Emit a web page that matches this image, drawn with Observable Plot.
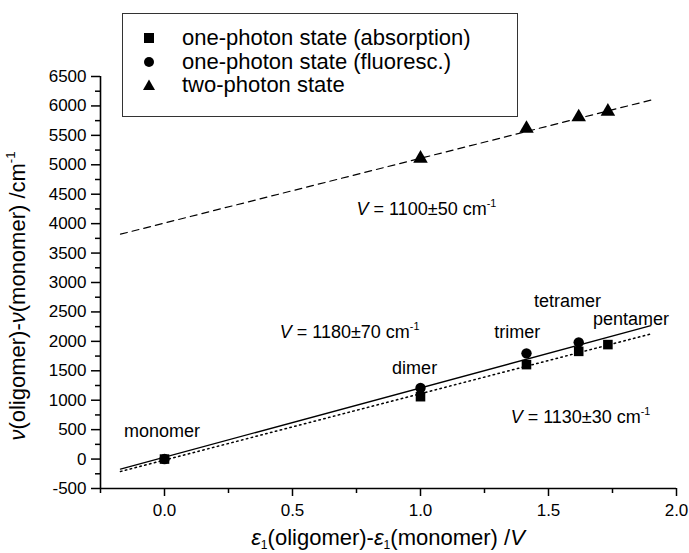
<!DOCTYPE html>
<html><head><meta charset="utf-8">
<script src="https://cdn.jsdelivr.net/npm/d3@7"></script>
<script src="https://cdn.jsdelivr.net/npm/@observablehq/plot@0.6"></script>
<style>
html,body{margin:0;padding:0;background:#fff;}
#wrap{position:relative;width:689px;height:553px;font-family:"Liberation Sans",Arial,Helvetica,sans-serif;color:#000;}
#legend{position:absolute;left:122px;top:13px;width:396px;height:104px;border:1px solid #333;box-sizing:border-box;background:#fff;}
.row{position:absolute;left:0;height:22px;line-height:22px;font-size:22px;white-space:nowrap;}
.row svg{position:absolute;left:19px;top:4px;}
.row span{position:absolute;left:59px;top:0;}
</style></head><body><div id="wrap"></div>
<script>
// ---- data ----
const structures = ["monomer", "dimer", "trimer", "tetramer", "pentamer"];
const deltaEps = [0, 1.0, 1.414, 1.618, 1.732];
const absorption = [0, 1060, 1605, 1830, 1945];
const fluorescence = [0, 1207, 1796, 1983, null];
const twoPhoton = [null, 5107, 5614, 5810, 5906];

// fitted lines (end points)
const fitAbsX = [-0.172, 1.90], fitAbsY = [-211, 2126];     // dotted, V = 1130
const fitFluX = [-0.172, 1.90], fitFluY = [-170, 2267];     // solid, V = 1180
const fitTwoX = [-0.172, 1.905], fitTwoY = [3821, 6105];    // dashed, V = 1100

// annotations (data coords)
const annText = ["monomer", "dimer", "trimer", "tetramer", "pentamer",
  "V = 1100±50 cm-1", "V = 1180±70 cm-1", "V = 1130±30 cm-1"];
const annX = [-0.01, 0.977, 1.378, 1.574, 1.822, 1.023, 0.723, 1.625];
const annY = [480, 1536, 2148, 2680, 2369, 4240, 2151, 703];

// axes
const xDomain = [-0.25, 2.0];
const yDomain = [-500, 6500];
const xMajor = [0.0, 0.5, 1.0, 1.5, 2.0];
const xMinor = [-0.25, 0.25, 0.75, 1.25, 1.75];
const yMajor = [-500, 0, 500, 1000, 1500, 2000, 2500, 3000, 3500, 4000, 4500, 5000, 5500, 6000, 6500];
const yMinor = [-250, 250, 750, 1250, 1750, 2250, 2750, 3250, 3750, 4250, 4750, 5250, 5750, 6250];

const legendLabels = ["one-photon state (absorption)", "one-photon state (fluoresc.)", "two-photon state"];

// ---- build tables ----
const idx = d3.range(structures.length);
const absPts = idx.filter(i => absorption[i] != null).map(i => ({x: deltaEps[i], y: absorption[i]}));
const fluPts = idx.filter(i => fluorescence[i] != null).map(i => ({x: deltaEps[i], y: fluorescence[i]}));
const twoPts = idx.filter(i => twoPhoton[i] != null).map(i => ({x: deltaEps[i], y: twoPhoton[i]}));
const toLine = (xs, ys) => xs.map((x, i) => ({x, y: ys[i]}));
const ann = annText.map((t, i) => ({x: annX[i], y: annY[i], t}));

const plot = Plot.plot({
  width: 689, height: 553,
  marginLeft: 100, marginRight: 13, marginTop: 76, marginBottom: 65,
  style: {fontFamily: '"Liberation Sans", Arial, Helvetica, sans-serif', fontSize: "17px", color: "#000", background: "#fff", overflow: "visible"},
  x: {domain: xDomain, label: null},
  y: {domain: yDomain, label: null},
  marks: [
    Plot.ruleY([yDomain[0]], {stroke: "#000", strokeWidth: 1.6}),
    Plot.ruleX([xDomain[0]], {stroke: "#000", strokeWidth: 1.6}),
    Plot.axisX(xMajor, {tickSize: 8, tickPadding: 7, tickFormat: d3.format(".1f"), strokeWidth: 1.5, fontSize: 17, label: null}),
    Plot.axisX(xMinor, {tickSize: 5, tickFormat: () => "", strokeWidth: 1.5, label: null}),
    Plot.axisY(yMajor, {tickSize: 9, tickPadding: 5, tickFormat: d => String(d), strokeWidth: 1.5, fontSize: 17, label: null}),
    Plot.axisY(yMinor, {tickSize: 5, tickFormat: () => "", strokeWidth: 1.5, label: null}),
    Plot.line(toLine(fitTwoX, fitTwoY), {x: "x", y: "y", stroke: "#000", strokeWidth: 1.2, strokeDasharray: "7,5"}),
    Plot.line(toLine(fitFluX, fitFluY), {x: "x", y: "y", stroke: "#000", strokeWidth: 1.3}),
    Plot.line(toLine(fitAbsX, fitAbsY), {x: "x", y: "y", stroke: "#000", strokeWidth: 1.5, strokeDasharray: "1.5,3.5"}),
    Plot.dot(fluPts, {x: "x", y: "y", r: 5.2, fill: "#000", stroke: "none", symbol: "circle"}),
    Plot.dot(absPts, {x: "x", y: "y", r: 5.4, fill: "#000", stroke: "none", symbol: "square"}),
    Plot.dot(twoPts, {x: "x", y: "y", r: 5.4, fill: "#000", stroke: "none", symbol: "triangle"}),
    Plot.text(ann, {x: "x", y: "y", text: "t", fontSize: 18, fill: "#000", textAnchor: "middle"})
  ]
});

const svg = d3.select(plot);
// rich text for V annotations
svg.selectAll("text").each(function () {
  const t = this.textContent;
  const m = /^V = (.*) cm-1$/.exec(t);
  if (m) {
    const s = d3.select(this);
    s.text(null);
    s.append("tspan").attr("font-style", "italic").text("V");
    s.append("tspan").text(" = " + m[1] + " cm");
    s.append("tspan").attr("font-size", "0.6em").attr("dy", "-0.75em").text("-1");
  }
});

// axis titles
const xt = svg.append("text").attr("x", 388).attr("y", 545).attr("text-anchor", "middle")
  .attr("font-size", 22).attr("fill", "#000");
xt.append("tspan").attr("font-style", "italic").text("ε");
xt.append("tspan").attr("font-size", "0.55em").attr("dy", "0.35em").text("1");
xt.append("tspan").attr("dy", "-0.19em").text("(oligomer)-");
xt.append("tspan").attr("font-style", "italic").text("ε");
xt.append("tspan").attr("font-size", "0.55em").attr("dy", "0.35em").text("1");
xt.append("tspan").attr("dy", "-0.19em").text("(monomer) /");
xt.append("tspan").attr("font-style", "italic").text("V");

const yt = svg.append("text").attr("transform", "translate(25,296) rotate(-90)").attr("text-anchor", "middle")
  .attr("font-size", 22).attr("fill", "#000");
yt.append("tspan").attr("font-style", "italic").text("ν");
yt.append("tspan").text("(oligomer)-");
yt.append("tspan").attr("font-style", "italic").text("ν");
yt.append("tspan").text("(monomer) /cm");
yt.append("tspan").attr("font-size", "0.6em").attr("dy", "-0.75em").text("-1");

const wrap = document.getElementById("wrap");
wrap.appendChild(plot);

// legend overlay
const legend = document.createElement("div");
legend.id = "legend";
const symbols = [
  '<rect x="2" y="2" width="10" height="10" fill="#000"/>',
  '<circle cx="7" cy="7" r="5" fill="#000"/>',
  '<path d="M7,1.5 L13,12 L1,12 Z" fill="#000"/>'
];
const rowTops = [13, 37, 60];
legendLabels.forEach((lab, i) => {
  const r = document.createElement("div");
  r.className = "row";
  r.style.top = rowTops[i] + "px";
  r.innerHTML = '<svg width="14" height="14" viewBox="0 0 14 14">' + symbols[i] + '</svg><span>' + lab + '</span>';
  legend.appendChild(r);
});
wrap.appendChild(legend);
</script>
</body></html>
